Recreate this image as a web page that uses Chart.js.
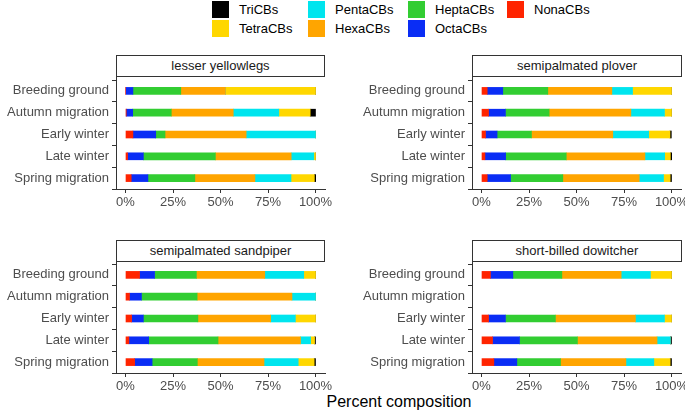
<!DOCTYPE html>
<html>
<head>
<meta charset="utf-8">
<script src="https://cdn.jsdelivr.net/npm/chart.js@4"></script>
<style>
  body { margin: 0; width: 685px; height: 413px; overflow: hidden; background: #fff; position: relative; font-family: "Liberation Sans", Arial, sans-serif; }
  .strip { position: absolute; box-sizing: border-box; border: 1px solid #333; background: #fff; color: #1a1a1a; font-size: 13px; text-align: center; line-height: 20px; }
  .panel { position: absolute; }
  .key { position: absolute; width: 17px; height: 17px; }
  .lab { position: absolute; font-size: 13px; color: #000; line-height: 17px; }
  #xtitle { position: absolute; left: 116px; width: 566px; top: 393px; text-align: center; font-size: 16px; color: #000; }
</style>
</head>
<body>
<div id="legend"></div>
<div id="xtitle">Percent composition</div>

<script>
// Seasons (y categories)
const seasons = ['Breeding ground', 'Autumn migration', 'Early winter', 'Late winter', 'Spring migration'];
// Stack order, left to right
const congeners = ['NonaCBs', 'OctaCBs', 'HeptaCBs', 'HexaCBs', 'PentaCBs', 'TetraCBs', 'TriCBs'];
const xTicks = [0, 25, 50, 75, 100];

// percent composition, one row per congener group (same order as congeners)
const lesserYellowlegs = [
  [0, 0.4, 3.9, 1.1, 3.0],
  [3.9, 3.4, 12.0, 8.3, 8.8],
  [25.2, 20.3, 4.9, 37.9, 24.7],
  [23.5, 32.6, 42.7, 39.9, 31.6],
  [0, 24.0, 36.5, 11.9, 19.0],
  [47.4, 16.5, 0, 0.9, 12.3],
  [0, 2.8, 0, 0, 0.7]
];
const semipalmatedPlover = [
  [3.0, 3.7, 2.1, 1.8, 3.0],
  [8.2, 8.9, 6.1, 10.9, 12.3],
  [23.7, 23.0, 18.1, 31.9, 27.5],
  [33.7, 43.0, 42.8, 41.4, 40.2],
  [10.9, 17.7, 18.9, 10.4, 12.8],
  [20.5, 3.7, 11.2, 3.0, 3.5],
  [0, 0, 0.7, 0.7, 0.7]
];
const semipalmatedSandpiper = [
  [7.4, 2.1, 3.2, 1.8, 4.8],
  [7.9, 6.3, 6.2, 10.4, 9.2],
  [22.0, 29.3, 28.7, 36.5, 23.8],
  [36.0, 49.9, 38.3, 43.4, 35.1],
  [20.5, 12.4, 13.0, 5.3, 18.0],
  [6.2, 0, 10.6, 2.1, 8.4],
  [0, 0, 0, 0.5, 0.7]
];
const shortBilledDowitcher = [
  [4.7, null, 3.7, 5.8, 6.5],
  [11.8, null, 8.9, 14.2, 12.1],
  [25.8, null, 26.3, 30.5, 23.0],
  [31.2, null, 42.1, 41.9, 34.4],
  [15.4, null, 15.3, 7.0, 14.7],
  [11.1, null, 3.7, 0, 8.6],
  [0, null, 0, 0.6, 0.7]
];

const colors = {
  NonaCBs: '#ff2400', OctaCBs: '#0a2df5', HeptaCBs: '#32cd32', HexaCBs: '#ffa500',
  PentaCBs: '#00e5ee', TetraCBs: '#ffd700', TriCBs: '#000000'
};

// legend, laid out in columns of two like ggplot
const legendOrder = ['TriCBs', 'TetraCBs', 'PentaCBs', 'HexaCBs', 'HeptaCBs', 'OctaCBs', 'NonaCBs'];
const legCols = [212, 308, 408, 507];
const legRows = [1, 19.5];
const legend = document.getElementById('legend');
legendOrder.forEach(function(name, i) {
  const x = legCols[Math.floor(i / 2)], y = legRows[i % 2];
  const k = document.createElement('div');
  k.className = 'key';
  k.style.left = x + 'px'; k.style.top = y + 'px'; k.style.background = colors[name];
  legend.appendChild(k);
  const t = document.createElement('div');
  t.className = 'lab';
  t.style.left = (x + 27) + 'px'; t.style.top = y + 'px';
  t.textContent = name;
  legend.appendChild(t);
});

// draws the left axis line up to the strip
const axisUp = {
  id: 'axisUp',
  afterDraw(chart) {
    const ctx = chart.ctx, a = chart.chartArea;
    ctx.save();
    ctx.strokeStyle = '#333';
    ctx.lineWidth = 1;
    ctx.beginPath();
    ctx.moveTo(a.left + 0.5, 0);
    ctx.lineTo(a.left + 0.5, a.top + 1);
    ctx.stroke();
    ctx.restore();
  }
};

const panels = [
  { title: 'lesser yellowlegs', data: lesserYellowlegs, left: 0, top: 77, pad: 3, stripTop: 55, stripW: 209 },
  { title: 'semipalmated plover', data: semipalmatedPlover, left: 356, top: 77, pad: 3, stripTop: 55, stripW: 210 },
  { title: 'semipalmated sandpiper', data: semipalmatedSandpiper, left: 0, top: 262, pad: 2, stripTop: 240, stripW: 209 },
  { title: 'short-billed dowitcher', data: shortBilledDowitcher, left: 356, top: 262, pad: 2, stripTop: 240, stripW: 210 }
];

const tickFont = { family: 'Liberation Sans', size: 13 };

panels.forEach(function(p) {
  const wrap = document.createElement('div');
  wrap.className = 'panel';
  wrap.style.left = p.left + 'px';
  wrap.style.top = p.top + 'px';
  const cv = document.createElement('canvas');
  cv.width = 335; cv.height = p.pad + 109 + 22;
  cv.style.width = '335px'; cv.style.height = cv.height + 'px';
  wrap.appendChild(cv);
  document.body.appendChild(wrap);

  const strip = document.createElement('div');
  strip.className = 'strip';
  strip.style.left = (p.left + 116) + 'px';
  strip.style.top = p.stripTop + 'px';
  strip.style.width = p.stripW + 'px';
  strip.style.height = '22px';
  strip.textContent = p.title;
  document.body.appendChild(strip);

  new Chart(cv, {
    type: 'bar',
    data: {
      labels: seasons,
      datasets: congeners.map(function(name, i) {
        return {
          label: name,
          data: p.data[i],
          backgroundColor: colors[name],
          borderWidth: 0,
          barThickness: 7
        };
      })
    },
    options: {
      indexAxis: 'y',
      responsive: false,
      animation: false,
      devicePixelRatio: 1,
      layout: { padding: { top: p.pad, right: 10, left: 0, bottom: 0 } },
      plugins: { legend: { display: false }, tooltip: { enabled: false } },
      scales: {
        x: {
          stacked: true,
          min: -5,
          max: 105,
          afterBuildTicks: function(s) { s.ticks = xTicks.map(function(v) { return { value: v }; }); },
          afterFit: function(s) { s.height = 22; },
          grid: { drawOnChartArea: false, drawTicks: true, tickLength: 4, color: '#333' },
          border: { color: '#333', width: 1 },
          ticks: {
            font: tickFont, color: '#4d4d4d', padding: 2, maxRotation: 0, autoSkip: false,
            callback: function(v) { return v + '%'; }
          }
        },
        y: {
          stacked: true,
          afterFit: function(s) { s.width = 116; s.paddingTop = 0; s.paddingBottom = 0; },
          grid: { drawOnChartArea: false, drawTicks: true, tickLength: 4, color: '#333' },
          border: { color: '#333', width: 1 },
          ticks: { font: tickFont, color: '#4d4d4d', padding: 3 }
        }
      }
    },
    plugins: [axisUp]
  });
});
</script>
</body>
</html>
